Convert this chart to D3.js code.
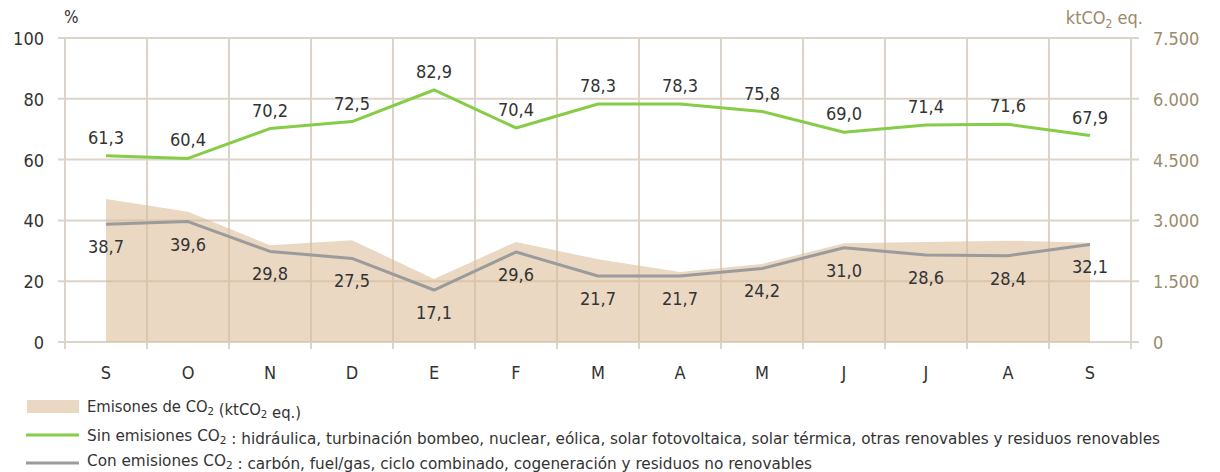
<!DOCTYPE html>
<html><head><meta charset="utf-8">
<script src="https://cdn.jsdelivr.net/npm/d3@7"></script>
<style>
html,body{margin:0;padding:0;background:#fff;}
svg text{font-family:"DejaVu Sans Condensed","DejaVu Sans",sans-serif;font-stretch:condensed;}
</style></head>
<body>
<svg id="chart" width="1220" height="472"></svg>
<script>
const months = ["S","O","N","D","E","F","M","A","M","J","J","A","S"];
const sinEmisiones = [61.3,60.4,70.2,72.5,82.9,70.4,78.3,78.3,75.8,69.0,71.4,71.6,67.9];
const conEmisiones = [38.7,39.6,29.8,27.5,17.1,29.6,21.7,21.7,24.2,31.0,28.6,28.4,32.1];
const emisiones = [3530,3215,2385,2510,1555,2470,2040,1730,1925,2435,2467,2500,2450];
const leftTicks = [0,20,40,60,80,100];
const rightTicks = [0,1500,3000,4500,6000,7500];

const svg = d3.select("#chart");
const x = d3.scaleBand().domain(d3.range(months.length)).range([65,1131]).paddingInner(0).paddingOuter(0);
const yL = d3.scaleLinear().domain([0,100]).range([342,38]);
const yR = d3.scaleLinear().domain([0,7500]).range([342,38]);
const cx = i => x(i) + x.bandwidth()/2;
const fmt = v => v.toFixed(1).replace(".", ",");
const fmtR = v => d3.format(",")(v).replace(/,/g, ".");

const gridColor = "#ddd4c9";
const textColor = "#333";
const tan = "#9b8a6b";

// vertical gridlines
const vEdges = d3.range(months.length+1).map(i => i < months.length ? x(i) : x.range()[1]);
svg.append("g").selectAll("line").data(vEdges).join("line")
  .attr("x1", d=>d).attr("x2", d=>d).attr("y1", yL(100)).attr("y2", yL(0)+7)
  .attr("stroke", gridColor).attr("stroke-width", 2);

// horizontal gridlines
svg.append("g").selectAll("line").data(leftTicks).join("line")
  .attr("x1", 58).attr("x2", 1139).attr("y1", d=>yL(d)).attr("y2", d=>yL(d))
  .attr("stroke", gridColor).attr("stroke-width", 2);

// area
const area = d3.area().x((d,i)=>cx(i)).y0(yR(0)).y1(d=>yR(d));
svg.append("path").datum(emisiones).attr("d", area)
  .attr("fill", "#d9b892").attr("fill-opacity", 0.55);

// lines
const lineL = d3.line().x((d,i)=>cx(i)).y(d=>yL(d));
svg.append("path").datum(conEmisiones).attr("d", lineL)
  .attr("fill","none").attr("stroke","#9b9b9b").attr("stroke-width",3).attr("stroke-linejoin","round");
svg.append("path").datum(sinEmisiones).attr("d", lineL)
  .attr("fill","none").attr("stroke","#86cc47").attr("stroke-width",3).attr("stroke-linejoin","round");

// value labels
svg.append("g").selectAll("text").data(sinEmisiones).join("text")
  .attr("x",(d,i)=>cx(i)).attr("y", d=>yL(d)-12)
  .attr("text-anchor","middle").attr("font-size",18).attr("fill",textColor)
  .text(fmt);
svg.append("g").selectAll("text").data(conEmisiones).join("text")
  .attr("x",(d,i)=>cx(i)).attr("y", d=>yL(d)+29)
  .attr("text-anchor","middle").attr("font-size",18).attr("fill",textColor)
  .text(fmt);

// left axis labels
svg.append("g").selectAll("text").data(leftTicks).join("text")
  .attr("x",44).attr("y", d=>yL(d)+7)
  .attr("text-anchor","end").attr("font-size",18).attr("fill",textColor)
  .text(d=>d);
// right axis labels
svg.append("g").selectAll("text").data(rightTicks).join("text")
  .attr("x",1153).attr("y", d=>yR(d)+7)
  .attr("text-anchor","start").attr("font-size",18).attr("fill",tan)
  .text(fmtR);
// month labels
svg.append("g").selectAll("text").data(months).join("text")
  .attr("x",(d,i)=>cx(i)).attr("y", 379)
  .attr("text-anchor","middle").attr("font-size",18).attr("fill",textColor)
  .text(d=>d);

// axis titles
svg.append("text").attr("x",64).attr("y",23).attr("font-size",17).attr("fill",textColor).text("%");
const rt = svg.append("text").attr("x",1143).attr("y",24).attr("text-anchor","end").attr("font-size",18).attr("fill",tan);
rt.append("tspan").text("ktCO");
rt.append("tspan").attr("font-size",12).attr("dy",4).text("2");
rt.append("tspan").attr("dy",-4).text(" eq.");

// legend
const lg = svg.append("g");
lg.append("rect").attr("x",27).attr("y",400).attr("width",52).attr("height",13).attr("fill","#d9b892").attr("fill-opacity",0.55);
lg.append("line").attr("x1",26).attr("x2",79).attr("y1",435).attr("y2",435).attr("stroke","#86cc47").attr("stroke-width",3);
lg.append("line").attr("x1",26).attr("x2",79).attr("y1",463).attr("y2",463).attr("stroke","#9b9b9b").attr("stroke-width",3);

function legendText(y, parts, len){
  const t = lg.append("text").attr("x",87).attr("y",y).attr("font-size",16).attr("fill",textColor)
    .attr("textLength", len).attr("lengthAdjust","spacingAndGlyphs");
  parts.forEach(p=>{
    if(p.sub){ t.append("tspan").attr("font-size",11).attr("dy",3).text(p.sub); t.append("tspan").attr("dy",-3).text(""); }
    else t.append("tspan").text(p.t);
  });
  return t;
}
legendText(412, [{t:"Emisones de CO"},{sub:"2"},{t:" (ktCO"},{sub:"2"},{t:" eq.)"}], 214);
legendText(441, [{t:"Sin emisiones CO"},{sub:"2"},{t:" : hidráulica, turbinación bombeo, nuclear, eólica, solar fotovoltaica, solar térmica,  otras renovables y residuos renovables"}], 1073);
legendText(466, [{t:"Con emisiones CO"},{sub:"2"},{t:" : carbón, fuel/gas, ciclo combinado, cogeneración y residuos no renovables"}], 725);
</script>
</body></html>
